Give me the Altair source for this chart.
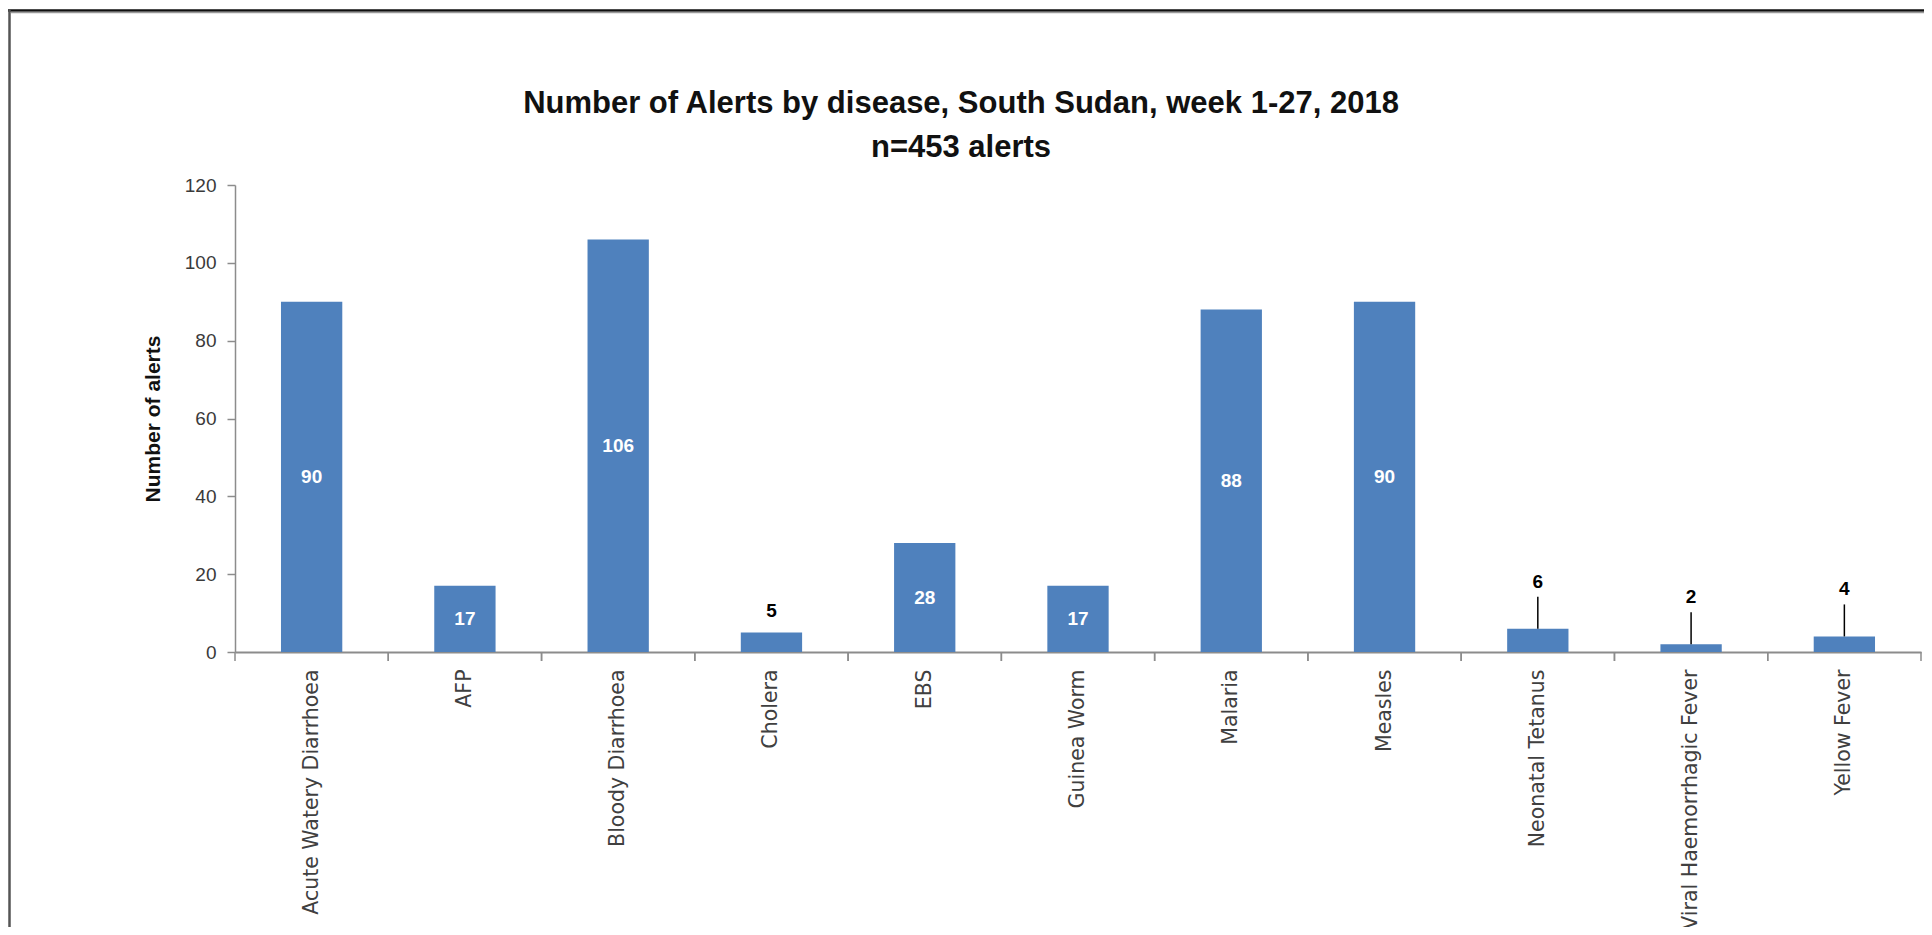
import altair as alt
import pandas as pd

diseases = ["Acute Watery Diarrhoea", "AFP", "Bloody Diarrhoea", "Cholera", "EBS",
            "Guinea Worm", "Malaria", "Measles", "Neonatal Tetanus",
            "Viral Haemorrhagic Fever", "Yellow Fever"]
alerts = [90, 17, 106, 5, 28, 17, 88, 90, 6, 2, 4]
leader_line_diseases = ["Neonatal Tetanus", "Viral Haemorrhagic Fever", "Yellow Fever"]
y_ticks = [0, 20, 40, 60, 80, 100, 120]
title_lines = ["Number of Alerts by disease, South Sudan, week 1-27, 2018", "n=453 alerts"]
y_title = "Number of alerts"

df = pd.DataFrame({"disease": diseases, "alerts": alerts})
df["leader"] = df["disease"].isin(leader_line_diseases)

W, H = 1686, 467
PAD_L, PAD_T, PAD_R, PAD_B = 227, 177, 3, 275
BAR = "#4F81BD"
AX = "#8c8c8c"
FONT = "Liberation Sans"

xscale = alt.Scale(domain=diseases, paddingInner=0, paddingOuter=0)
yscale = alt.Scale(domain=[0, 120], nice=False)

x_axis = alt.Axis(
    title=None, labelAngle=270, labelFontSize=20.5, labelFont="DejaVu Sans", labelColor="#404040",
    ticks=False, labelPadding=17, domainColor=AX, domainWidth=2, labelLimit=400,
)
y_axis = alt.Axis(
    title=y_title, values=y_ticks, grid=False, tickSize=8, tickColor=AX, tickWidth=1.5,
    domainColor=AX, domainWidth=1.5, labelFont=FONT, labelFontSize=19, labelColor="#3a3a3a",
    labelPadding=11, titleFont=FONT, titleFontSize=21, titleFontWeight="bold", titleColor="#111",
    titleAngle=270, titleX=-82, titleY=H / 2, titleAlign="center", titleBaseline="middle",
)

base = alt.Chart(df)

bars = base.mark_bar(color=BAR, width=alt.RelativeBandSize(0.4)).encode(
    x=alt.X("disease:N", sort=diseases, scale=xscale, axis=x_axis),
    y=alt.Y("alerts:Q", scale=yscale, axis=y_axis),
)

inside = base.transform_filter("datum.alerts >= 10").transform_calculate(
    mid="datum.alerts / 2"
).mark_text(color="white", fontSize=19, font=FONT, fontWeight="bold", baseline="middle").encode(
    x=alt.X("disease:N", sort=diseases),
    y=alt.Y("mid:Q"),
    text=alt.Text("alerts:Q"),
)

above_plain = base.transform_filter("datum.alerts < 10 && !datum.leader").mark_text(
    color="black", fontSize=19, font=FONT, fontWeight="bold", baseline="middle", dy=-22
).encode(
    x=alt.X("disease:N", sort=diseases),
    y=alt.Y("alerts:Q"),
    text=alt.Text("alerts:Q"),
)

above_leader = base.transform_filter("datum.leader").mark_text(
    color="black", fontSize=19, font=FONT, fontWeight="bold", baseline="middle", dy=-47
).encode(
    x=alt.X("disease:N", sort=diseases),
    y=alt.Y("alerts:Q"),
    text=alt.Text("alerts:Q"),
)

leaders = base.transform_filter("datum.leader").mark_rule(
    color="black", strokeWidth=1.5, y2Offset=-32
).encode(
    x=alt.X("disease:N", sort=diseases),
    y=alt.Y("alerts:Q"),
    y2=alt.Y2("alerts"),
)

tick_start = base.mark_rule(color=AX, strokeWidth=1.5).encode(
    x=alt.X("disease:N", sort=diseases, bandPosition=0),
    y=alt.value(H),
    y2=alt.value(H + 9),
)
tick_end = base.mark_rule(color=AX, strokeWidth=1.5).encode(
    x=alt.X("disease:N", sort=diseases, bandPosition=1),
    y=alt.value(H),
    y2=alt.value(H + 9),
)

one = alt.Data(values=[{"k": 1}])
title1 = alt.Chart(one).mark_text(
    text=title_lines[0], fontSize=31, font=FONT, fontWeight="bold", color="#111",
    baseline="middle", align="center"
).encode(x=alt.value(961 - 235), y=alt.value(104 - 185))
title2 = alt.Chart(one).mark_text(
    text=title_lines[1], fontSize=31, font=FONT, fontWeight="bold", color="#111",
    baseline="middle", align="center"
).encode(x=alt.value(961 - 235), y=alt.value(148 - 185))

border_top = alt.Chart(one).mark_rule(color="#111", strokeWidth=2.5).encode(
    x=alt.value(-PAD_L), x2=alt.value(W + PAD_R), y=alt.value(2.5 - PAD_T)
)
border_top_shadow = alt.Chart(one).mark_rule(color="#9a9a9a", strokeWidth=1.5).encode(
    x=alt.value(-PAD_L + 3), x2=alt.value(W + PAD_R), y=alt.value(4.5 - PAD_T)
)
border_left = alt.Chart(one).mark_rule(color="#555", strokeWidth=2.5).encode(
    x=alt.value(1.5 - PAD_L), y=alt.value(1.5 - PAD_T), y2=alt.value(H + PAD_B)
)

chart = alt.layer(
    bars, inside, above_plain, above_leader, leaders, tick_start, tick_end,
    title1, title2, border_top, border_top_shadow, border_left,
).properties(
    width=W, height=H,
    autosize=alt.AutoSizeParams(type="none"),
    padding={"left": PAD_L, "top": PAD_T, "right": PAD_R, "bottom": PAD_B},
    background="white",
).configure_view(stroke=None)

chart.save("out.html", embed_options={"renderer": "svg", "actions": False})
